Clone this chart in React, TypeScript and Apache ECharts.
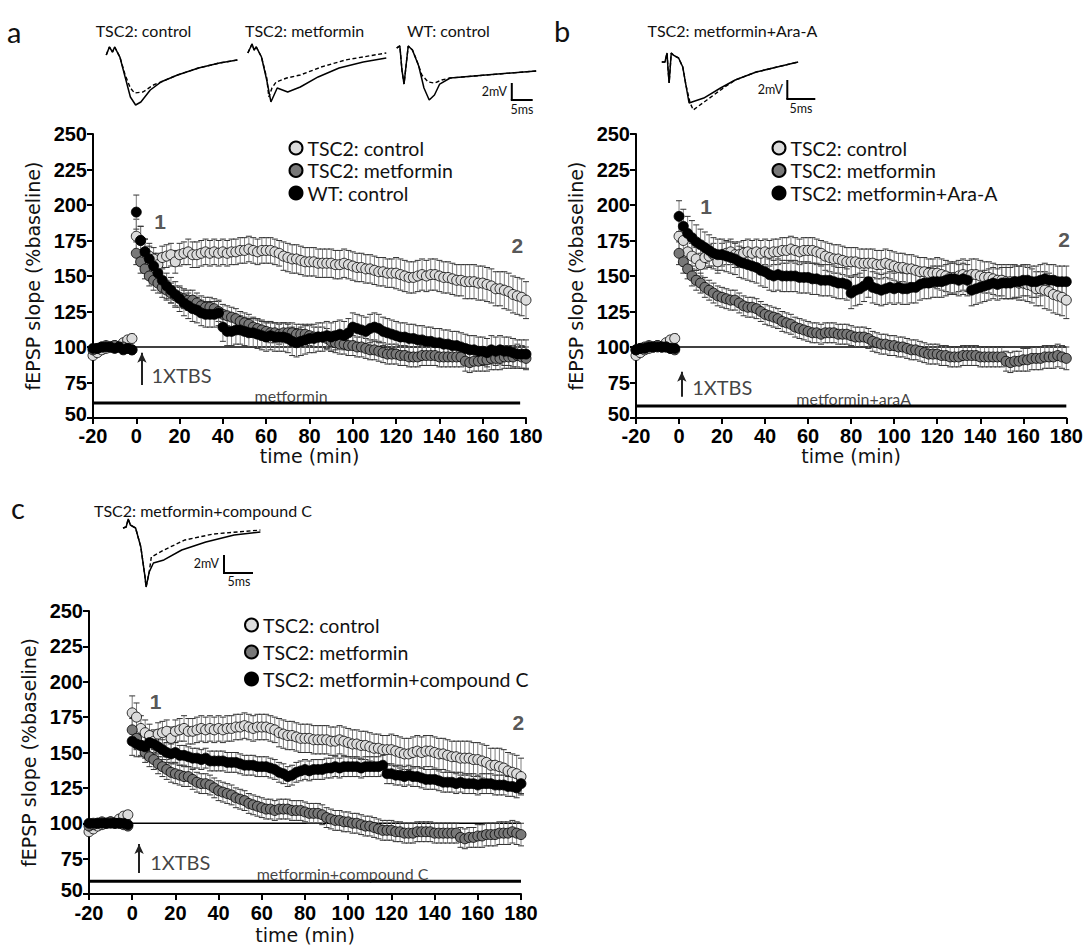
import React, { useEffect, useRef } from "react";
import * as echarts from "echarts";

// ---------- time points (min) ----------
const baseTimes = [-20, -18, -16, -14, -12, -10, -8, -6, -4, -2];
const postTimes = [
  0, 2, 4, 6, 8, 10, 12, 14, 16, 18,
  20, 22, 24, 26, 28, 30, 32, 34, 36, 38,
  40, 42, 44, 46, 48, 50, 52, 54, 56, 58,
  60, 62, 64, 66, 68, 70, 72, 74, 76, 78,
  80, 82, 84, 86, 88, 90, 92, 94, 96, 98,
  100, 102, 104, 106, 108, 110, 112, 114, 116, 118,
  120, 122, 124, 126, 128, 130, 132, 134, 136, 138,
  140, 142, 144, 146, 148, 150, 152, 154, 156, 158,
  160, 162, 164, 166, 168, 170, 172, 174, 176, 178,
  180,
];

// ---------- fEPSP slope (% baseline) ----------
const ctrlBase = [94, 96, 98, 99, 100, 101, 100, 103, 105, 106];
const ctrlPost = [
  178, 175, 167, 164, 162, 158, 163, 164, 165, 160,
  165, 166, 167, 165, 165, 166, 167, 166, 167, 166,
  167, 166, 167, 167, 168, 168, 169, 168, 167, 168,
  168, 168, 167, 166, 164, 163, 162, 162, 161, 160,
  160, 160, 159, 159, 159, 159, 158, 158, 159, 158,
  157, 156, 156, 155, 155, 154, 153, 153, 152, 152,
  152, 151, 150, 149, 149, 150, 151, 150, 151, 151,
  150, 149, 149, 148, 147, 147, 146, 146, 146, 145,
  145, 144, 143, 141, 141, 140, 139, 137, 136, 135,
  133,
];
const ctrlErr = [
  2, 2, 2, 2, 2, 2, 2, 2, 2, 3,
  12, 10, 9, 9, 8, 8, 8, 8, 8, 8,
  8, 8, 9, 9, 9, 9, 9, 9, 9, 9,
  9, 9, 9, 9, 9, 9, 9, 9, 9, 9,
  9, 9, 9, 9, 10, 10, 10, 10, 10, 10,
  10, 10, 10, 10, 10, 10, 10, 10, 10, 10,
  10, 10, 10, 10, 10, 10, 10, 10, 10, 10,
  11, 11, 11, 11, 11, 11, 11, 11, 11, 11,
  11, 11, 11, 11, 11, 11, 12, 12, 12, 12,
  12, 12, 12, 12, 12, 13, 13, 13, 13, 13,
  13,
];

const metBase = [98, 99, 100, 101, 100, 101, 100, 100, 99, 98];
const metPost = [
  166, 160, 155, 150, 147, 145, 142, 140, 138, 136,
  135, 134, 133, 133, 131, 129, 128, 128, 127, 125,
  123, 122, 121, 120, 118, 117, 116, 114, 113, 112,
  111, 110, 110, 109, 110, 110, 110, 109, 109, 109,
  108, 107, 107, 107, 106, 104, 103, 102, 102, 101,
  101, 100, 100, 99, 98, 98, 97, 96, 95, 95,
  95, 94, 94, 93, 93, 93, 94, 94, 94, 94,
  93, 93, 93, 93, 93, 93, 90, 89, 90, 90,
  91, 91, 92, 92, 92, 93, 93, 93, 94, 93,
  92,
];
const metErr = [
  2, 2, 2, 2, 2, 2, 2, 2, 2, 2,
  8, 8, 7, 7, 7, 7, 7, 7, 7, 7,
  7, 7, 7, 7, 7, 7, 7, 7, 7, 7,
  7, 7, 7, 7, 7, 7, 7, 7, 7, 7,
  7, 7, 7, 7, 7, 7, 7, 7, 7, 7,
  7, 7, 7, 7, 7, 7, 7, 7, 7, 7,
  7, 7, 7, 7, 7, 7, 7, 7, 7, 7,
  7, 7, 7, 7, 7, 7, 7, 7, 7, 7,
  7, 7, 7, 7, 7, 7, 7, 7, 7, 7,
  8, 8, 8, 8, 8, 8, 8, 8, 8, 8,
  8,
];

const wtBase = [99, 99, 100, 100, 100, 99, 100, 98, 99, 98];
const wtPost = [
  195, 175, 167, 162, 157, 152, 147, 143, 140, 137,
  134, 131, 129, 127, 126, 124, 123, 123, 123, 124,
  114, 111, 111, 112, 112, 111, 110, 110, 109, 108,
  107, 108, 107, 107, 107, 106, 104, 103, 104, 105,
  106, 106, 107, 107, 108, 107, 108, 109, 108, 110,
  114, 113, 112, 111, 113, 114, 113, 111, 110, 109,
  108, 107, 107, 106, 106, 105, 105, 104, 104, 103,
  103, 102, 102, 101, 101, 100, 99, 98, 98, 97,
  97, 96, 98, 97, 98, 97, 97, 96, 95, 95,
  95,
];
const wtErr = [
  2, 2, 2, 2, 2, 2, 2, 2, 2, 2,
  12, 10, 9, 9, 9, 9, 9, 9, 9, 9,
  9, 9, 9, 9, 9, 9, 9, 9, 9, 9,
  10, 10, 10, 10, 10, 10, 10, 10, 10, 10,
  10, 10, 10, 10, 10, 10, 10, 10, 10, 10,
  10, 10, 10, 10, 10, 10, 10, 10, 10, 10,
  10, 10, 10, 10, 10, 10, 10, 10, 10, 10,
  10, 10, 10, 10, 10, 10, 10, 10, 10, 10,
  10, 10, 10, 10, 10, 10, 10, 10, 10, 10,
  10, 10, 10, 10, 10, 10, 10, 10, 10, 10,
  10,
];

const araBase = [98, 99, 99, 100, 100, 100, 100, 100, 99, 99];
const araPost = [
  192, 185, 180, 177, 174, 172, 170, 168, 166, 165,
  165, 164, 163, 162, 160, 159, 158, 157, 156, 154,
  153, 151, 150, 151, 150, 150, 150, 150, 149, 149,
  149, 148, 148, 147, 147, 147, 146, 145, 145, 144,
  138, 140, 141, 143, 146, 142, 141, 140, 141, 142,
  141, 142, 141, 141, 142, 142, 144, 145, 145, 146,
  146, 146, 147, 148, 148, 147, 148, 147, 140, 141,
  142, 143, 144, 145, 144, 145, 145, 145, 146, 146,
  147, 147, 146, 146, 147, 148, 147, 147, 146, 146,
  146,
];
const araErr = [
  2, 2, 2, 2, 2, 2, 2, 2, 2, 2,
  11, 12, 12, 12, 12, 11, 11, 11, 11, 11,
  11, 11, 11, 11, 11, 11, 11, 11, 11, 11,
  11, 11, 11, 11, 11, 11, 11, 11, 11, 11,
  11, 11, 11, 11, 11, 11, 11, 11, 11, 11,
  11, 11, 11, 11, 11, 11, 11, 11, 11, 11,
  11, 11, 11, 11, 11, 11, 11, 11, 11, 11,
  11, 11, 11, 11, 11, 11, 11, 11, 11, 11,
  11, 11, 11, 11, 11, 11, 11, 11, 11, 11,
  11, 11, 11, 11, 11, 11, 11, 11, 11, 11,
  11,
];

const cpdBase = [100, 100, 100, 100, 100, 100, 100, 100, 100, 99];
const cpdPost = [
  158, 156, 155, 154, 157, 156, 154, 152, 150, 149,
  150, 148, 148, 147, 146, 146, 145, 146, 144, 144,
  144, 144, 143, 143, 143, 142, 141, 141, 141, 140,
  140, 140, 139, 138, 136, 135, 133, 134, 136, 137,
  138, 137, 138, 138, 138, 139, 139, 140, 139, 140,
  140, 140, 140, 139, 140, 140, 140, 140, 141, 135,
  135, 134, 134, 133, 134, 133, 133, 132, 131, 131,
  131, 130, 129, 129, 129, 128, 129, 128, 128, 128,
  127, 128, 128, 128, 127, 127, 127, 126, 126, 125,
  128,
];
const cpdErr = [
  2, 2, 2, 2, 2, 2, 2, 2, 2, 2,
  10, 9, 8, 8, 8, 7, 7, 7, 7, 7,
  7, 7, 7, 7, 7, 7, 7, 7, 7, 7,
  7, 7, 7, 7, 7, 7, 7, 7, 7, 7,
  7, 7, 7, 7, 7, 7, 7, 7, 7, 7,
  7, 7, 7, 7, 7, 7, 7, 7, 7, 7,
  7, 7, 7, 7, 7, 7, 7, 7, 7, 7,
  7, 7, 7, 7, 7, 7, 7, 7, 7, 7,
  7, 7, 7, 7, 7, 7, 7, 7, 7, 7,
  7, 7, 7, 7, 7, 7, 7, 7, 7, 7,
  7,
];

// ---------- example traces [ms, mV] ----------
const trA1Solid = [[0.25, 0], [1, 0.94], [1.75, 0.35], [2.25, 0.94], [3.5, -0.24], [4.75, -2.59], [6, -4.94], [7.25, -5.88], [8.5, -5.53], [10.75, -4.12], [13.25, -3.18], [17.25, -2.35], [22.25, -1.53], [27.25, -0.94], [31.5, -0.59]];
const trA1Dashed = [[0.25, 0], [1, 0.94], [1.75, 0.35], [2.25, 0.94], [3.5, -0.24], [4.75, -2.35], [6, -3.88], [7, -4.47], [9, -4.35], [11.5, -3.53], [13.25, -3.18], [17.25, -2.35], [22.25, -1.53], [27.25, -0.94], [31.5, -0.59]];
const trA2Solid = [[0.25, 0], [1.25, 1.06], [1.75, 0.35], [2.25, 0.71], [3.5, -0.47], [4.75, -3.18], [5.75, -5.76], [7.25, -4.12], [9.75, -4.59], [12.75, -4.0], [17, -2.82], [22, -1.76], [27.75, -1.06], [33.25, -0.59]];
const trA2Dashed = [[0.25, 0], [1.25, 1.06], [1.75, 0.35], [2.25, 0.71], [3.5, -0.47], [4.75, -2.94], [5.25, -5.18], [6, -4.12], [7, -3.41], [9.5, -2.94], [12.75, -2.59], [17.75, -1.65], [23.5, -0.82], [33.25, 0]];
const trA3Solid = [[0, 0], [0.75, 0.24], [1.25, -2.59], [1.75, -4.24], [2.25, -2.0], [2.75, 0.24], [3.75, -0.24], [5.25, -2.12], [6.5, -4.71], [7.75, -6.12], [9, -5.53], [10.25, -4.24], [12.75, -3.53], [21.25, -3.18], [33.25, -2.71]];
const trA3Dashed = [[0, 0], [0.75, 0.24], [1.25, -2.59], [1.75, -4.24], [2.25, -2.0], [2.75, 0.24], [3.75, -0.24], [4.75, -1.41], [6, -3.18], [7.5, -4.0], [9, -4.12], [10.75, -3.76], [12.75, -3.53], [21.25, -3.18], [33.25, -2.71]];
const trBSolid = [[0, 0], [0.75, 0], [1.25, 1.06], [1.5, -0.94], [1.75, -2.47], [2.25, 1.06], [2.75, 0.82], [4, 0.47], [5, -0.59], [5.75, -2.71], [6.5, -4.82], [10, -4.24], [14, -3.06], [17.5, -2.12], [22.5, -1.18], [27.5, -0.59], [32.5, 0]];
const trBDashed = [[0, 0], [0.75, 0], [1.25, 1.06], [1.5, -0.94], [1.75, -2.47], [2.25, 1.06], [2.75, 0.82], [4, 0.47], [5, -0.59], [5.75, -2.71], [6.75, -4.82], [7.5, -5.65], [10.75, -4.47], [15, -2.94], [17.5, -2.12], [22.5, -1.18], [27.5, -0.59], [32.5, 0]];
const trCSolid = [[0, 0], [0.75, 0.12], [1.25, 1.06], [1.75, 0.35], [3, 0], [4.25, -2.24], [5.25, -5.76], [5.5, -6.94], [6.25, -5.18], [7.25, -4.12], [9.75, -3.76], [14, -2.59], [19.75, -1.65], [26.5, -0.82], [32.75, -0.47]];
const trCDashed = [[0, 0], [0.75, 0.12], [1.25, 1.06], [1.75, 0.35], [3, 0], [4.25, -2.24], [5.25, -5.76], [5.5, -6.94], [6.25, -5.18], [6.75, -3.41], [9.75, -2.59], [14.75, -1.41], [21.5, -0.71], [32.75, -0.24]];

// ---------- names / annotations ----------
const nCtrl = "TSC2: control";
const nMet = "TSC2: metformin";
const nWT = "WT: control";
const nAra = "TSC2: metformin+Ara-A";
const nCpd = "TSC2: metformin+compound C";

const numLabelsA: [string, number, number][] = [["1", 11, 188.5], ["2", 176, 171.5]];
const numLabelsB: [string, number, number][] = [["1", 12.6, 199], ["2", 179, 175.8]];
const numLabelsC: [string, number, number][] = [["1", 10.8, 186], ["2", 178.8, 171]];
const tbsA: [number, number] = [7, 80];
const tbsB: [number, number] = [6.1, 71.9];
const tbsC: [number, number] = [8.3, 72.5];
const arrowA: [number, number, number] = [2.6, 73.3, 96];
const arrowB: [number, number, number] = [1.3, 65, 82.5];
const arrowC: [number, number, number] = [3.2, 64.8, 85.4];
const drugA: [string, number, number, number, number] = ["metformin", -20, 177.3, 60.5, 71.5];
const drugB: [string, number, number, number, number] = ["metformin+araA", -20, 180, 58.5, 81.2];
const drugC: [string, number, number, number, number] = ["metformin+compound C", -20, 180, 59, 97.4];

const COL_CTRL = "#dcdcdc";
const COL_MET = "#787878";
const COL_BLK = "#000000";
const FONT = "Lato";
const NAMEFONT = "DejaVu Sans";
const NUMFONT = "Liberation Sans";

function join(bt: number[], pt: number[], bv: number[], pv: number[]) {
  const t = bt.concat(pt);
  const v = bv.concat(pv);
  return t.map((x, i) => [x, v[i]]);
}

function scatter(name: string, g: number, data: number[][], color: string, z: number) {
  return {
    type: "scatter",
    name,
    xAxisIndex: g,
    yAxisIndex: g,
    data,
    symbol: "circle",
    symbolSize: 10,
    itemStyle: { color, borderColor: "#000", borderWidth: 0.8, opacity: 1 },
    z,
    silent: true,
  };
}

function errBars(id: string, g: number, data: number[][], errs: number[]) {
  return {
    type: "custom",
    name: id,
    xAxisIndex: g,
    yAxisIndex: g,
    clip: false,
    silent: true,
    z: 2,
    data: data.map((d, i) => [d[0], d[1] - errs[i], d[1] + errs[i]]),
    encode: { x: 0, y: [1, 2] },
    renderItem: (params: any, api: any) => {
      const x = api.value(0);
      const lo = api.coord([x, api.value(1)]);
      const hi = api.coord([x, api.value(2)]);
      const w = 3;
      return {
        type: "group",
        children: [
          { type: "line", shape: { x1: lo[0], y1: lo[1], x2: hi[0], y2: hi[1] }, style: { stroke: "#7e7e7e", lineWidth: 1 } },
          { type: "line", shape: { x1: hi[0] - w, y1: hi[1], x2: hi[0] + w, y2: hi[1] }, style: { stroke: "#333", lineWidth: 1 } },
          { type: "line", shape: { x1: lo[0] - w, y1: lo[1], x2: lo[0] + w, y2: lo[1] }, style: { stroke: "#333", lineWidth: 1 } },
        ],
      };
    },
  };
}

function panelExtras(g: number, nums: [string, number, number][], tbs: [number, number], arrow: [number, number, number], drug: [string, number, number, number, number]) {
  const textData: any[] = [];
  nums.forEach(([t, x, y]) => {
    textData.push({
      value: [x, y],
      label: { show: true, formatter: t, position: "inside", align: "center", verticalAlign: "middle", fontSize: 21, fontWeight: "bold", fontFamily: NUMFONT, color: "#2a2a2a" },
    });
  });
  textData.push({
    value: [tbs[0], tbs[1]],
    label: { show: true, formatter: "1XTBS", position: "inside", align: "left", verticalAlign: "middle", fontSize: 20, fontFamily: FONT, color: "#111" },
  });
  textData.push({
    value: [drug[4], drug[3] + 5.5],
    label: { show: true, formatter: drug[0], position: "inside", align: "center", verticalAlign: "middle", fontSize: 16, fontFamily: FONT, color: "#111" },
  });
  return [
    {
      type: "line",
      xAxisIndex: g,
      yAxisIndex: g,
      data: [[-0.3, 100], [180, 100]],
      showSymbol: false,
      symbol: "none",
      lineStyle: { color: "#000", width: 1.5 },
      z: 1,
      silent: true,
      markLine: {
        silent: true,
        symbol: ["none", "arrow"],
        symbolSize: [7, 10],
        label: { show: false },
        lineStyle: { color: "#222", width: 2, type: "solid" },
        data: [[{ coord: [arrow[0], arrow[1]] }, { coord: [arrow[0], arrow[2]] }]],
      },
    },
    {
      type: "line",
      xAxisIndex: g,
      yAxisIndex: g,
      data: [[drug[1], drug[3]], [drug[2], drug[3]]],
      showSymbol: false,
      symbol: "none",
      lineStyle: { color: "#000", width: 3 },
      z: 1,
      silent: true,
    },
    {
      type: "scatter",
      xAxisIndex: g,
      yAxisIndex: g,
      symbolSize: 1,
      itemStyle: { color: "rgba(0,0,0,0)" },
      silent: true,
      z: 10,
      data: textData,
    },
  ];
}

function traceSeries(g: number, solid: number[][], dashed: number[][]) {
  return [
    { type: "line", xAxisIndex: g, yAxisIndex: g, data: solid, showSymbol: false, symbol: "none", lineStyle: { color: "#000", width: 1.5 }, silent: true, z: 3 },
    { type: "line", xAxisIndex: g, yAxisIndex: g, data: dashed, showSymbol: false, symbol: "none", lineStyle: { color: "#000", width: 1.4, type: [4, 2.5] }, silent: true, z: 4 },
  ];
}

const tickFont = { fontSize: 20, fontWeight: "bold", fontFamily: NUMFONT, color: "#000" };

function mainAxes(g: number, nameGapX: number, labelMarginX: number) {
  const common = {
    gridIndex: g,
    type: "value",
    axisLine: { show: true, onZero: false, lineStyle: { color: "#000", width: 2 } },
    axisTick: { show: true, length: 6, lineStyle: { color: "#000", width: 2 } },
    splitLine: { show: false },
  };
  return {
    x: {
      ...common,
      min: -20,
      max: 180,
      interval: 20,
      axisLabel: { ...tickFont, lineHeight: 16, margin: labelMarginX },
      name: "time (min)",
      nameLocation: "middle",
      nameGap: nameGapX,
      nameTextStyle: { fontSize: 19, fontFamily: NAMEFONT, color: "#111" },
    },
    y: {
      ...common,
      min: 50,
      max: 250,
      interval: 25,
      axisLabel: {
        ...tickFont,
        lineHeight: 16,
        margin: 6,
        formatter: (v: number) => (v === 50 ? "{lo|50}" : String(v)),
        rich: { lo: { ...tickFont, lineHeight: 16, padding: [0, 0, 9, 0] } },
      },
      name: "fEPSP slope (%baseline)",
      nameLocation: "middle",
      nameGap: 51,
      nameTextStyle: { fontSize: 19, fontFamily: NAMEFONT, color: "#111" },
    },
  };
}

function insetAxes(g: number) {
  return {
    x: { gridIndex: g, type: "value", min: 0, max: 34, show: false },
    y: { gridIndex: g, type: "value", min: -8, max: 2, show: false },
  };
}

function legendAt(names: string[], left: number, top: number, gap: number) {
  return {
    data: names,
    orient: "vertical",
    left,
    top,
    padding: 0,
    itemWidth: 13,
    itemHeight: 13,
    itemGap: gap,
    icon: "circle",
    selectedMode: false,
    textStyle: { fontSize: 19.5, fontFamily: FONT, color: "#111", lineHeight: 20 },
  };
}

function txt(text: string, x: number, y: number, size: number, align = "left") {
  return { type: "text", x, y, silent: true, style: { text, fontSize: size, fontFamily: FONT, fill: "#111", align, verticalAlign: "middle" } };
}
function seg(x1: number, y1: number, x2: number, y2: number) {
  return { type: "line", silent: true, shape: { x1, y1, x2, y2 }, style: { stroke: "#000", lineWidth: 2 } };
}

export default function App() {
  const ref = useRef<HTMLDivElement>(null);
  useEffect(() => {
    if (!ref.current) return;
    const chart = echarts.init(ref.current, undefined, { renderer: "svg" });

    const ctrlData = join(baseTimes, postTimes, ctrlBase, ctrlPost);
    const metData = join(baseTimes, postTimes, metBase, metPost);
    const wtData = join(baseTimes, postTimes, wtBase, wtPost);
    const araData = join(baseTimes, postTimes, araBase, araPost);
    const cpdData = join(baseTimes, postTimes, cpdBase, cpdPost);

    const A = mainAxes(0, 25, 10);
    const B = mainAxes(1, 25, 10);
    const C = mainAxes(2, 31, 11);
    const I = [3, 4, 5, 6, 7].map(insetAxes);

    const PXMS = 4.195;
    const PXMV = 8.5;
    const inset = (x0: number, y0: number) => ({ left: x0, top: y0 - 2 * PXMV, width: 34 * PXMS, height: 10 * PXMV });

    const series: any[] = [];
    // panel a
    series.push(errBars("e1", 0, ctrlData, ctrlErr), errBars("e2", 0, metData, metErr), errBars("e3", 0, wtData, wtErr));
    series.push(scatter(nCtrl, 0, ctrlData, COL_CTRL, 3), scatter(nMet, 0, metData, COL_MET, 4), scatter(nWT, 0, wtData, COL_BLK, 5));
    series.push(...panelExtras(0, numLabelsA, tbsA, arrowA, drugA));
    // panel b
    series.push(errBars("e4", 1, ctrlData, ctrlErr), errBars("e5", 1, metData, metErr), errBars("e6", 1, araData, araErr));
    series.push(scatter(nCtrl, 1, ctrlData, COL_CTRL, 3), scatter(nMet, 1, metData, COL_MET, 4), scatter(nAra, 1, araData, COL_BLK, 5));
    series.push(...panelExtras(1, numLabelsB, tbsB, arrowB, drugB));
    // panel c
    series.push(errBars("e7", 2, ctrlData, ctrlErr), errBars("e8", 2, metData, metErr), errBars("e9", 2, cpdData, cpdErr));
    series.push(scatter(nCtrl, 2, ctrlData, COL_CTRL, 3), scatter(nMet, 2, metData, COL_MET, 4), scatter(nCpd, 2, cpdData, COL_BLK, 5));
    series.push(...panelExtras(2, numLabelsC, tbsC, arrowC, drugC));
    // insets
    series.push(...traceSeries(3, trA1Solid, trA1Dashed));
    series.push(...traceSeries(4, trA2Solid, trA2Dashed));
    series.push(...traceSeries(5, trA3Solid, trA3Dashed));
    series.push(...traceSeries(6, trBSolid, trBDashed));
    series.push(...traceSeries(7, trCSolid, trCDashed));

    chart.setOption({
      animation: false,
      backgroundColor: "#fff",
      grid: [
        { left: 93, top: 134, width: 433, height: 284 },
        { left: 636, top: 134, width: 433, height: 284 },
        { left: 89, top: 611, width: 432, height: 286 },
        inset(105.2, 55),
        inset(246.8, 53),
        inset(396.7, 48),
        inset(661.8, 62),
        inset(123, 528),
      ],
      xAxis: [A.x, B.x, C.x, ...I.map((a) => a.x)],
      yAxis: [A.y, B.y, C.y, ...I.map((a) => a.y)],
      legend: [
        legendAt([nCtrl, nMet, nWT], 288.5, 138, 2.5),
        legendAt([nCtrl, nMet, nAra], 771.5, 138, 2.5),
        legendAt([nCtrl, nMet, nCpd], 244, 615, 7),
      ],
      graphic: [
        txt("a", 7, 31, 29),
        txt("b", 554, 30, 29),
        txt("c", 11, 507, 29),
        txt("TSC2: control", 95.7, 30, 16),
        txt("TSC2: metformin", 245, 30, 16),
        txt("WT: control", 407, 30, 16),
        txt("TSC2: metformin+Ara-A", 647.5, 30, 16),
        txt("TSC2: metformin+compound C", 94, 510, 16),
        seg(511.8, 83, 511.8, 100), seg(510.8, 100, 532.7, 100),
        txt("2mV", 507, 91, 12.5, "right"), txt("5ms", 522, 109, 12.5, "center"),
        seg(787.3, 80, 787.3, 99), seg(786.3, 99, 815.3, 99),
        txt("2mV", 783, 89, 12.5, "right"), txt("5ms", 801, 108, 12.5, "center"),
        seg(224, 555, 224, 573), seg(223, 573, 253, 573),
        txt("2mV", 219, 563, 12.5, "right"), txt("5ms", 239, 581, 12.5, "center"),
      ],
      series,
    });
    return () => chart.dispose();
  }, []);
  return <div ref={ref} style={{ position: "fixed", left: 0, top: 0, width: 1086, height: 945, background: "#fff" }} />;
}
